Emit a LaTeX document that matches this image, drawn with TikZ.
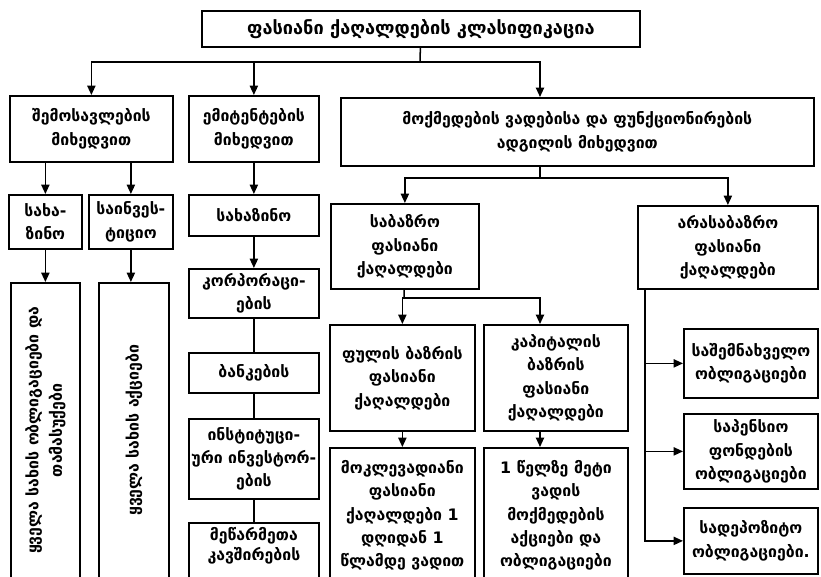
\documentclass[tikz,border=0pt]{standalone}
\usepackage{fontspec}
\usepackage{graphicx}
\newfontfamily\geofont{DejaVu Sans}
\usetikzlibrary{arrows.meta}

\begin{document}
\begin{tikzpicture}[x=0.03cm, y=-0.03cm, >={Triangle[length=8pt,width=7pt]},
    box/.style={rectangle, draw=black, line width=1.5pt, align=center, inner sep=1pt,
      font=\geofont\bfseries\fontsize{13.5}{20}\selectfont},
    size/.style 2 args={minimum width=#1*0.03cm, minimum height=#2*0.03cm},
    link/.style={line width=1.3pt}]
  %\draw[help lines] (0, 0) grid[step=50] (821, 576);
  \useasboundingbox (0,0) rectangle (821,576);
  \clip (0,0) rectangle (821,576);

  \node [box, size={438}{36}, below right, font=\geofont\bfseries\fontsize{15.5}{20}\selectfont] (title) at (201, 10) {ფასიანი ქაღალდების კლასიფიკაცია};

  \node [box, size={163}{66}, below right] (income) at (9, 95) {შემოსავლების\\მიხედვით};
  \node [box, size={130}{66}, below right] (issuer) at (188, 95) {ემიტენტების\\მიხედვით};
  \node [box, size={473}{68}, below right] (term) at (340, 97) {მოქმედების ვადებისა და ფუნქციონირების\\ადგილის მიხედვით};

  % by income
  \node [box, size={73}{54}, below right] (treasA) at (8, 194) {სახა-\\ზინო};
  \node [box, size={84}{54}, below right] (investA) at (88, 194) {საინვეს-\\ტიციო};
  \node [box, size={69}{295}, below right] (bondsAll) at (10, 282)
    {\rotatebox{90}{\begin{tabular}{@{}c@{}}ყველა სახის ობლიგაციები და\\თამასუქები\end{tabular}}};
  \node [box, size={70}{295}, below right] (sharesAll) at (98, 282) {\rotatebox{90}{ყველა სახის აქციები}};

  % by issuer
  \node [box, size={130}{41}, below right] (treasB) at (188, 194) {სახაზინო};
  \node [box, size={130}{49}, below right] (corp) at (188, 268) {კორპორაცი-\\ების};
  \node [box, size={130}{40}, below right] (bank) at (188, 352) {ბანკების};
  \node [box, size={130}{80}, below right] (inst) at (188, 418) {ინსტიტუცი-\\ური ინვესტორ-\\ების};
  \node [box, size={130}{40}, below right, text depth=40pt, inner ysep=4pt,
    font=\geofont\bfseries\fontsize{13.5}{17}\selectfont] (entr) at (188, 522) {მეწარმეთა\\კავშირების};

  % by term and place
  \node [box, size={148}{85}, below right] (market) at (330, 203) {საბაზრო\\ფასიანი\\ქაღალდები};
  \node [box, size={145}{106}, below right] (money) at (329, 324) {ფულის ბაზრის\\ფასიანი\\ქაღალდები};
  \node [box, size={144}{106}, below right] (capital) at (483, 324) {კაპიტალის\\ბაზრის\\ფასიანი\\ქაღალდები};
  \node [box, size={145}{135}, below right] (short) at (329, 447) {მოკლევადიანი\\ფასიანი\\ქაღალდები 1\\დღიდან 1\\წლამდე ვადით};
  \node [box, size={144}{135}, below right] (long) at (483, 447) {1 წელზე მეტი\\ვადის\\მოქმედების\\აქციები და\\ობლიგაციები};

  \node [box, size={180}{83}, below right] (nonmarket) at (637, 205) {არასაბაზრო\\ფასიანი\\ქაღალდები};
  \node [box, size={134}{69}, below right] (savings) at (683, 328) {საშემნახველო\\ობლიგაციები};
  \node [box, size={134}{75}, below right] (pension) at (683, 413) {საპენსიო\\ფონდების\\ობლიგაციები};
  \node [box, size={134}{66}, below right] (deposit) at (683, 507) {სადეპოზიტო\\ობლიგაციები.};

  \coordinate (busTop) at (420, 62);
  \coordinate (spine) at (540, 0);
  \coordinate (busMid) at (540, 178);
  \coordinate (busLow) at (404, 298);
  \coordinate (rspine) at (645, 0);

  \draw[link] (title) -- (busTop);
  \draw[link, ->] (busTop) -| (income);
  \draw[link, ->] (busTop) -| (issuer);
  \draw[link, ->] (busTop) -| (term.north -| spine);

  \draw[link, ->] (income.south -| treasA) -- (treasA);
  \draw[link, ->] (income.south -| investA) -- (investA);
  \draw[link, ->] (treasA) -- (bondsAll);
  \draw[link, ->] (investA) -- (sharesAll.north -| investA);

  \draw[link, ->] (issuer) -- (treasB);
  \draw[link, ->] (treasB) -- (corp);
  \draw[link] (corp) -- (bank);
  \draw[link] (bank) -- (inst);
  \draw[link] (inst) -- (entr);

  \draw[link] (term.south -| spine) -- (busMid);
  \draw[link, ->] (busMid) -| (market);
  \draw[link, ->] (busMid) -| (nonmarket);
  \draw[link] (market) -- (busLow);
  \draw[link, ->] (busLow) -| (money);
  \draw[link, ->] (busLow) -| (capital.north -| spine);
  \draw[link, ->] (money) -- (short);
  \draw[link, ->] (capital.south -| spine) -- (long.north -| spine);

  \draw[link, ->] (nonmarket.south -| rspine) |- (savings);
  \draw[link, ->] (nonmarket.south -| rspine) |- (pension);
  \draw[link, ->] (nonmarket.south -| rspine) |- (deposit);
\end{tikzpicture}
\end{document}
